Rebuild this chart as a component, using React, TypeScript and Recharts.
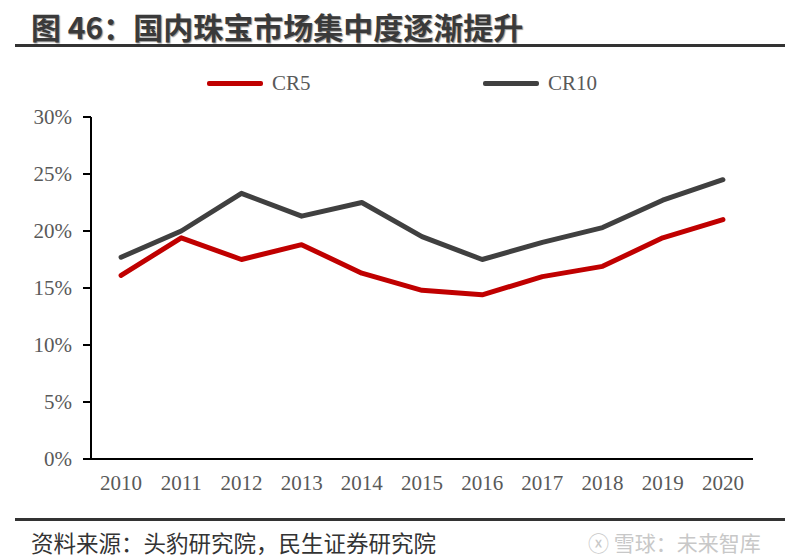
import { Line, LineChart, XAxis, YAxis } from 'recharts';

// 国内珠宝市场集中度 (%)
const years = [2010, 2011, 2012, 2013, 2014, 2015, 2016, 2017, 2018, 2019, 2020];
const cr5 = [16.1, 19.4, 17.5, 18.8, 16.3, 14.8, 14.4, 16.0, 16.9, 19.4, 21.0];
const cr10 = [17.7, 20.0, 23.3, 21.3, 22.5, 19.5, 17.5, 19.0, 20.3, 22.7, 24.5];
const yTicks = [0, 5, 10, 15, 20, 25, 30];
// tick marks sit between the year categories
const bandEdges = [2009.5, 2010.5, 2011.5, 2012.5, 2013.5, 2014.5, 2015.5, 2016.5, 2017.5, 2018.5, 2019.5, 2020.5];

const series = [
  { key: 'cr5', name: 'CR5', color: '#C00000' },
  { key: 'cr10', name: 'CR10', color: '#404040' },
];

const data = years.map((year, i) => ({ year, cr5: cr5[i], cr10: cr10[i] }));

const serif = '"Liberation Serif", "DejaVu Serif", serif';
const cjk = '"Noto Sans CJK SC", "Noto Sans", sans-serif';

const LegendBox = () => (
  <div style={{ position: 'absolute', left: 0, top: 69, width: 800, height: 28 }}>
    {series.map((s, i) => (
      <div
        key={s.key}
        style={{
          position: 'absolute',
          left: i === 0 ? 207 : 483,
          top: 0,
          display: 'flex',
          alignItems: 'center',
          height: 28,
        }}
      >
        <div style={{ width: 56, height: 5, background: s.color, borderRadius: 2 }} />
        <span style={{ marginLeft: 9, fontFamily: serif, fontSize: 21, color: '#595959' }}>{s.name}</span>
      </div>
    ))}
  </div>
);

export default function App() {
  return (
    <div style={{ position: 'absolute', left: 0, top: 0, width: 800, height: 560, background: '#fff' }}>
      <div
        style={{
          position: 'absolute',
          left: 31,
          top: 7,
          fontFamily: cjk,
          fontWeight: 700,
          fontSize: 30,
          lineHeight: '38px',
          color: '#3a3a3a',
          whiteSpace: 'nowrap',
          textShadow: '1px 1px 1px #999',
        }}
      >
        图 46：国内珠宝市场集中度逐渐提升
      </div>
      <div style={{ position: 'absolute', left: 15, top: 44, width: 770, height: 3, background: '#333' }} />

      <LegendBox />

      <div style={{ position: 'absolute', left: 0, top: 0 }}>
        <LineChart width={800} height={560} data={data} margin={{ top: 117, right: 47, left: 31, bottom: 53 }}>
          <XAxis
            xAxisId="edge"
            type="number"
            dataKey="year"
            domain={[2009.5, 2020.5]}
            ticks={bandEdges}
            interval={0}
            tick={false}
            tickSize={6}
            height={8}
            axisLine={{ stroke: '#000', strokeWidth: 2 }}
            tickLine={{ stroke: '#000', strokeWidth: 2 }}
          />
          <XAxis
            xAxisId="label"
            type="number"
            dataKey="year"
            domain={[2009.5, 2020.5]}
            ticks={years}
            interval={0}
            axisLine={false}
            tickLine={false}
            tickSize={0}
            tickMargin={8}
            height={40}
            tick={{ fill: '#595959', fontFamily: serif, fontSize: 21 }}
          />
          <YAxis
            domain={[0, 30]}
            ticks={yTicks}
            interval={0}
            width={60}
            tickSize={8}
            tickMargin={11}
            tickFormatter={(v: number) => `${v}%`}
            axisLine={{ stroke: '#000', strokeWidth: 2 }}
            tickLine={{ stroke: '#000', strokeWidth: 2 }}
            tick={{ fill: '#595959', fontFamily: serif, fontSize: 21 }}
          />
          {series.map((s) => (
            <Line
              key={s.key}
              xAxisId="edge"
              dataKey={s.key}
              name={s.name}
              stroke={s.color}
              strokeWidth={5}
              dot={false}
              activeDot={false}
              strokeLinecap="round"
              strokeLinejoin="round"
              isAnimationActive={false}
            />
          ))}
        </LineChart>
      </div>

      <div style={{ position: 'absolute', left: 15, top: 518, width: 770, height: 3, background: '#333' }} />
      <div
        style={{
          position: 'absolute',
          left: 31,
          top: 527,
          fontFamily: cjk,
          fontSize: 22.5,
          lineHeight: '30px',
          color: '#333',
          whiteSpace: 'nowrap',
        }}
      >
        资料来源：头豹研究院，民生证券研究院
      </div>
      <div
        style={{
          position: 'absolute',
          left: 588,
          top: 527,
          fontFamily: cjk,
          fontSize: 21,
          lineHeight: '30px',
          color: '#c8c8c8',
          whiteSpace: 'nowrap',
        }}
      >
        ⓧ 雪球：未来智库
      </div>
    </div>
  );
}
